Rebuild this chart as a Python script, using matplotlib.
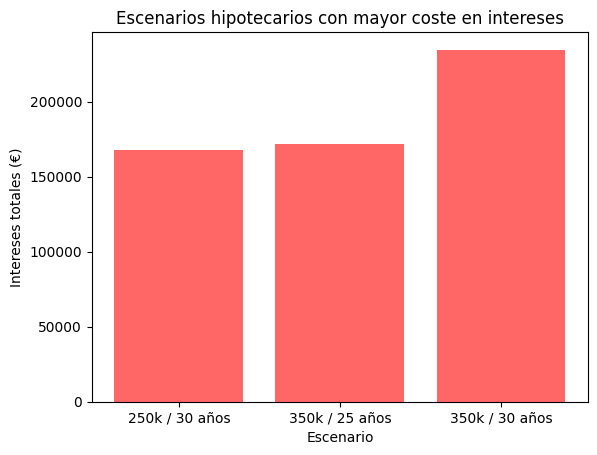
import matplotlib
matplotlib.use('Agg')
import matplotlib.pyplot as plt

# Datos
escenarios = ['250k / 30 años', '350k / 25 años', '350k / 30 años']
intereses = [167800, 171800, 234600]

plt.figure(figsize=(6.4, 4.8))
plt.bar(escenarios, intereses, color='red', alpha=0.6)
plt.title('Escenarios hipotecarios con mayor coste en intereses')
plt.xlabel('Escenario')
plt.ylabel('Intereses totales (€)')

plt.savefig('out.png', dpi=100, bbox_inches='tight')
